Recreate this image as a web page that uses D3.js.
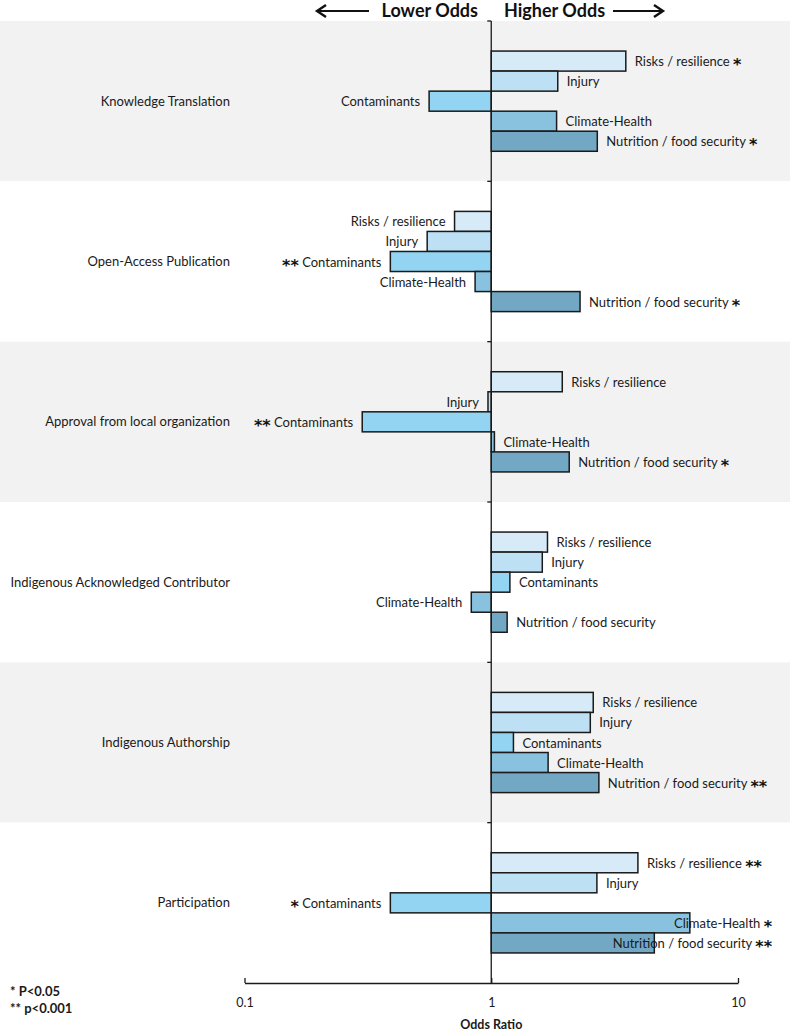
<!DOCTYPE html>
<html><head><meta charset="utf-8">
<script src="https://cdn.jsdelivr.net/npm/d3@7"></script>
<style>
html,body{margin:0;padding:0;background:#fff;}
svg{display:block;font-family:Lato,"Open Sans",sans-serif;}
</style></head>
<body>
<svg id="chart" width="792" height="1033"></svg>
<script>
const categories = ["Knowledge Translation","Open-Access Publication","Approval from local organization","Indigenous Acknowledged Contributor","Indigenous Authorship","Participation"];
const seriesNames = ["Risks / resilience","Injury","Contaminants","Climate-Health","Nutrition / food security"];
const risks        = [3.51, 0.71, 1.94, 1.69, 2.59, 3.93];
const injury       = [1.86, 0.55, 0.97, 1.61, 2.52, 2.68];
const contaminants = [0.56, 0.39, 0.30, 1.19, 1.23, 0.39];
const climate      = [1.84, 0.86, 1.03, 0.83, 1.70, 6.38];
const nutrition    = [2.69, 2.29, 2.07, 1.16, 2.73, 4.58];
const risksSig     = ["*", "", "", "", "", "**"];
const injurySig    = ["", "", "", "", "", ""];
const contamSig    = ["", "**", "**", "", "", "*"];
const climateSig   = ["", "", "", "", "", "*"];
const nutritionSig = ["*", "*", "*", "", "**", "**"];
const tickValues = [0.1, 1, 10];
const tickLabels = ["0.1", "1", "10"];
const seriesColors = ["#d6eaf8","#bde0f5","#93d4f2","#88c2df","#73a8c4"];

const seriesValues = [risks, injury, contaminants, climate, nutrition];
const seriesSig = [risksSig, injurySig, contamSig, climateSig, nutritionSig];

const svg = d3.select("#chart");
const plotTop = 21, plotBottom = 983;
const x = d3.scaleLog().domain([0.1, 10]).range([244.5, 738]);
const y = d3.scaleBand().domain(categories).range([plotTop, plotBottom]).padding(0);
const inner = d3.scaleBand().domain(seriesNames).range([0, y.bandwidth()]).paddingInner(0).paddingOuter(1.5);

// background bands
svg.append("g").selectAll("rect").data(categories).join("rect")
  .attr("x", 0).attr("width", 790)
  .attr("y", d => y(d)).attr("height", y.bandwidth())
  .attr("fill", (d,i) => i % 2 === 0 ? "#f2f2f2" : "#ffffff");

// category labels
svg.append("g").selectAll("text").data(categories).join("text")
  .attr("x", 230).attr("y", d => y(d) + y.bandwidth()/2 + 4.5)
  .attr("text-anchor", "end").attr("font-size", 13).attr("fill", "#1a1a1a")
  .text(d => d);

// bars
const rows = [];
categories.forEach((c, ci) => {
  seriesNames.forEach((s, si) => {
    rows.push({c, s, si, v: seriesValues[si][ci], sig: seriesSig[si][ci]});
  });
});
const x1 = x(1);
svg.append("g").selectAll("rect").data(rows).join("rect")
  .attr("x", d => Math.min(x(d.v), x1))
  .attr("width", d => Math.abs(x(d.v) - x1))
  .attr("y", d => y(d.c) + inner(d.s))
  .attr("height", inner.bandwidth())
  .attr("fill", d => seriesColors[d.si])
  .attr("stroke", "#1a1a1a").attr("stroke-width", 1.5);

// labels
const lab = svg.append("g").attr("font-size", 13).attr("fill", "#1a1a1a");
const starTspan = (t, txt) => t.append("tspan").attr("font-family", "DejaVu Sans").attr("font-weight", "bold")
  .attr("font-size", 16).attr("dy", 4).attr("fill", "#111").text(txt);
rows.forEach(d => {
  const pos = d.v >= 1;
  const by = y(d.c) + inner(d.s) + inner.bandwidth()/2 + 5;
  const t = lab.append("text").attr("y", by).attr("text-anchor", pos ? "start" : "end");
  if (pos) {
    t.append("tspan").text(d.s + (d.sig ? " " : ""));
    if (d.sig) starTspan(t, d.sig);
    const lx = x(d.v) + 9;
    t.attr("x", lx);
    const w = t.node().getComputedTextLength();
    if (lx + w > 772) t.attr("x", 772 - w);
  } else {
    if (d.sig) starTspan(t, d.sig);
    t.append("tspan").attr("dy", d.sig ? -4 : 0).text((d.sig ? " " : "") + d.s);
    t.attr("x", x(d.v) - 9);
  }
});

// vertical axis line at OR=1
svg.append("line").attr("x1", x1).attr("x2", x1).attr("y1", plotTop).attr("y2", plotBottom)
  .attr("stroke", "#1a1a1a").attr("stroke-width", 1.3);
svg.append("g").selectAll("line").data(categories).join("line")
  .attr("x1", x1 - 4).attr("x2", x1).attr("y1", d => y(d)).attr("y2", d => y(d))
  .attr("stroke", "#1a1a1a").attr("stroke-width", 1.3);

// bottom axis
const axis = d3.axisBottom(x).tickValues(tickValues).tickFormat((d,i) => tickLabels[i])
  .tickSizeInner(-5).tickSizeOuter(0).tickPadding(15);
const ag = svg.append("g").attr("transform", `translate(0,${plotBottom})`).call(axis);
ag.select(".domain").attr("stroke", "#1a1a1a").attr("stroke-width", 1.3);
ag.selectAll(".tick line").attr("stroke", "#1a1a1a").attr("stroke-width", 1.3);
ag.selectAll(".tick text").attr("font-family", "Lato").attr("font-size", 12.5).attr("fill", "#1a1a1a");

svg.append("text").attr("x", x1).attr("y", 1029).attr("text-anchor", "middle")
  .attr("font-size", 12.5).attr("font-weight", "bold").attr("fill", "#1a1a1a").text("Odds Ratio");

// top header
svg.append("text").attr("x", 478).attr("y", 17).attr("text-anchor", "end")
  .attr("font-size", 18).attr("font-weight", "bold").attr("fill", "#111").text("Lower Odds");
svg.append("text").attr("x", 504).attr("y", 17).attr("text-anchor", "start")
  .attr("font-size", 18).attr("font-weight", "bold").attr("fill", "#111").text("Higher Odds");
const arrows = [[369, 317], [613, 663]];
arrows.forEach(([a, b]) => {
  const dir = Math.sign(b - a);
  svg.append("line").attr("x1", a).attr("x2", b).attr("y1", 11).attr("y2", 11)
    .attr("stroke", "#111").attr("stroke-width", 2.2);
  svg.append("path").attr("d", `M${b - dir*9},${5} L${b},${11} L${b - dir*9},${17}`)
    .attr("fill", "none").attr("stroke", "#111").attr("stroke-width", 2.4);
});

// significance legend
svg.append("text").attr("x", 10).attr("y", 996).attr("font-size", 13).attr("font-weight", "bold").attr("fill", "#1a1a1a").text("* P<0.05");
svg.append("text").attr("x", 10).attr("y", 1013).attr("font-size", 13).attr("font-weight", "bold").attr("fill", "#1a1a1a").text("** p<0.001");
</script>
</body></html>
